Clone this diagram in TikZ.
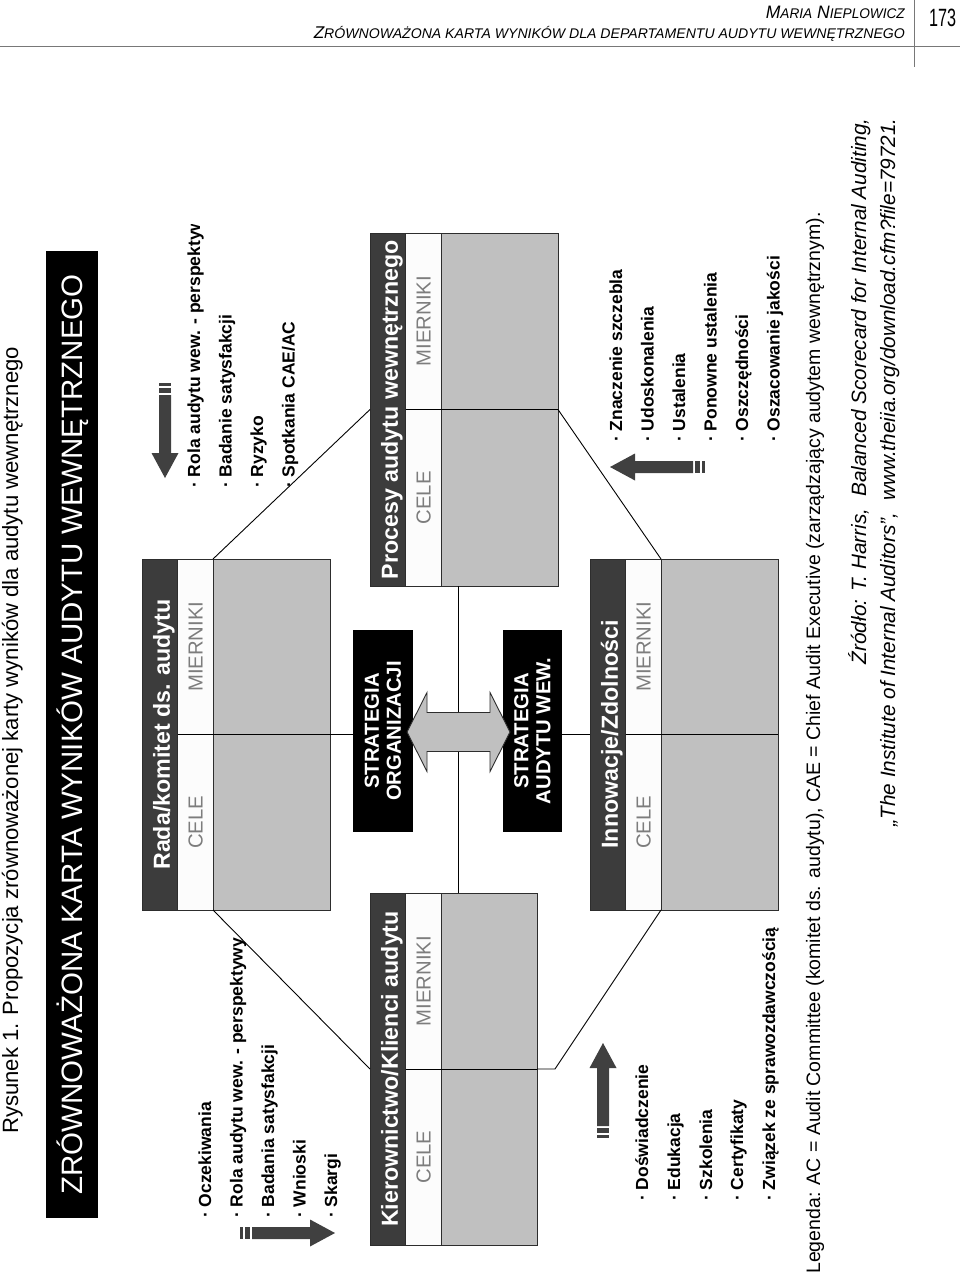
\documentclass[tikz,border=0pt]{standalone}
\usepackage{fontspec}
\setmainfont{Liberation Sans}
\usepackage{graphicx}
\usetikzlibrary{calc}
\definecolor{hdrgrey}{RGB}{60,60,60}
\definecolor{bodygrey}{RGB}{192,192,192}
\definecolor{bandwhite}{RGB}{252,252,252}
\definecolor{labelgrey}{RGB}{125,125,125}
\definecolor{arrowgrey}{RGB}{64,64,64}
\definecolor{edgegrey}{RGB}{45,45,45}
\definecolor{linegrey}{RGB}{120,120,120}

\tikzset{
  boxpart/.style={draw=edgegrey, line width=0.9pt, inner sep=0pt, outer sep=0pt, anchor=north west},
  hdr/.style={boxpart, fill=hdrgrey},
  wband/.style={boxpart, fill=bandwhite},
  gband/.style={boxpart, fill=bodygrey},
  hdrtext/.style={rotate=90, anchor=base, inner sep=0pt, text=white, font=\fontsize{23.2}{26}\selectfont\bfseries},
  celetext/.style={rotate=90, anchor=base, inner sep=0pt, text=labelgrey, font=\fontsize{20.3}{24}\selectfont},
  conn/.style={draw=black, line width=0.9pt},
  stratbox/.style={fill=black, inner sep=0pt, outer sep=0pt},
  strattext/.style={rotate=90, align=center, inner sep=0pt, text=white, font=\fontsize{20.3}{22}\selectfont\bfseries},
  dblarrow/.style={fill=bodygrey, draw=edgegrey, line width=0.9pt, line join=miter},
  listtext/.style={rotate=90, anchor=base west, inner sep=0pt, font=\fontsize{17.5}{20}\selectfont\bfseries},
  notetext/.style={rotate=90, anchor=base west, inner sep=0pt, font=\fontsize{19.5}{22}\selectfont},
  srctext/.style={rotate=90, anchor=base east, inner sep=0pt, font=\fontsize{20.75}{24}\selectfont\itshape},
  captext/.style={rotate=90, anchor=base west, inner sep=0pt, font=\fontsize{22.1}{26}\selectfont},
  titlebox/.style={fill=black, inner sep=0pt, outer sep=0pt, anchor=north west},
  titletext/.style={rotate=90, anchor=base, inner sep=0pt, text=white, font=\fontsize{29.5}{34}\selectfont},
  headline/.style={draw=linegrey, line width=1pt},
  runhead/.style={anchor=base east, inner sep=0pt},
  sarrow/.pic={
    \fill[arrowgrey] (0,-6) rectangle (3,6);
    \fill[arrowgrey] (5,-6) rectangle (10,6);
    \fill[arrowgrey] (12,-6) -- (70,-6) -- (70,-13.5) -- (95,0) -- (70,13.5) -- (70,6) -- (12,6) -- cycle;
  }
}

% #1 name, #2 x, #3 y top, #4 grey width, #5 height, #6 title
\newcommand\perspbox[6]{%
  \node[hdr, minimum width=35.5pt, minimum height=#5pt] (#1-h) at (#2,#3) {};
  \node[wband, minimum width=35.5pt, minimum height=#5pt] (#1-w) at (#1-h.north east) {};
  \node[gband, minimum width=#4pt, minimum height=#5pt] (#1-g) at (#1-w.north east) {};
  \draw[conn] (#1-w.west) -- (#1-g.east);
  \node[hdrtext] (#1-t) at ($(#1-h.center)+(10,0)$) {#6};
  \node[celetext] (#1-c) at ($(#1-w.center)!0.5!(#1-w.south)+(7.3,0)$) {CELE};
  \node[celetext] (#1-m) at ($(#1-w.center)!0.5!(#1-w.north)+(7.3,0)$) {MIERNIKI};
}

\begin{document}
\begin{tikzpicture}[x=1pt,y=-1pt]
\useasboundingbox (0,0) rectangle (960,1282);
\fill[white] (0,0) rectangle (960,1282);

% running head
\draw[headline] (0,46) -- (960,46);
\draw[headline] (914,0) -- (914,67);
\node[runhead] (author) at (905,18) {\resizebox{139pt}{\height}{\itshape\fontsize{18}{20}\selectfont M{\fontsize{14}{16}\selectfont ARIA} N{\fontsize{14}{16}\selectfont IEPLOWICZ}}};
\node[runhead] (rtitle) at (905,38) {\resizebox{591pt}{\height}{\itshape\fontsize{17}{20}\selectfont Z{\fontsize{14}{16}\selectfont RÓWNOWAŻONA KARTA WYNIKÓW DLA DEPARTAMENTU AUDYTU WEWNĘTRZNEGO}}};
\node[anchor=base west, inner sep=0pt] (pageno) at (929,26) {\resizebox{27pt}{\height}{\fontsize{25}{28}\selectfont 173}};

% caption and title
\node[captext] (caption) at (18,1134) {Rysunek 1. Propozycja zrównoważonej karty wyników dla audytu wewnętrznego};
\node[titlebox, minimum width=52pt, minimum height=967pt] (tbox) at (46,251) {};
\node[titletext] (ttext) at ($(tbox.center)+(10.5,0)$) {ZRÓWNOWAŻONA KARTA WYNIKÓW AUDYTU WEWNĘTRZNEGO};

% perspective boxes
\perspbox{proc}{370}{233}{117}{353}{Procesy audytu wewnętrznego}
\perspbox{rada}{142}{559}{117}{351}{Rada/komitet ds. audytu}
\perspbox{inno}{590}{559}{117}{351}{Innowacje/Zdolności}
\perspbox{kier}{370}{893}{96}{352}{Kierownictwo/Klienci audytu}

% strategy boxes
\node[stratbox, minimum width=60pt, minimum height=202pt] (sorg) at (383,731) {};
\node[stratbox, minimum width=59pt, minimum height=202pt] (saud) at (532.5,731) {};
\node[strattext] (sorgt) at (sorg.center) {STRATEGIA\\ORGANIZACJI};
\node[strattext] (saudt) at (saud.center) {STRATEGIA\\AUDYTU WEW.};

% connectors
\coordinate (ctrx) at (458,0);
\draw[conn] (ctrx |- proc-g.south) -- (ctrx |- kier-g.north);
\draw[conn] (rada-g.east) -- (sorg.west |- rada-g.east);
\draw[conn] (saud.east |- inno-h.west) -- (inno-h.west);
\draw[conn] (rada-g.north west) -- (proc-h.west);
\draw[conn] (rada-g.south west) -- (kier-h.west);
\draw[conn] (proc-g.east) -- (inno-g.north west);
\draw[conn] (inno-g.south west) -- ($(kier-g.east)+(18,0)$) -- (kier-g.east);

% double arrow between strategies
\draw[dblarrow] (407,732) -- (427,692.5) -- (427,712.5) -- (490,712.5) -- (490,692.5) -- (510,732) -- (490,771.5) -- (490,751.5) -- (427,751.5) -- (427,771.5) -- cycle;

% striped arrows
\pic[rotate=-90] (arrtop) at (165,383) {sarrow};
\pic (arrleft) at (240,1233) {sarrow};
\pic[rotate=90] (arrbl) at (603,1138) {sarrow};
\pic[rotate=180] (arrbr) at (705,467) {sarrow};

% lists
\begin{scope}
  \clip (180,224) rectangle (215,500);
  \node[listtext] (t1) at (200,488) {· Rola audytu wew. - perspektyw};
\end{scope}
\node[listtext] (t2) at (231.5,488) {· Badanie satysfakcji};
\node[listtext] (t3) at (263,488) {· Ryzyko};
\node[listtext] (t4) at (294.5,488) {· Spotkania CAE/AC};

\node[listtext] (l1) at (211,1218) {· Oczekiwania};
\node[listtext] (l2) at (242.5,1218) {· Rola audytu wew. - perspektywy};
\node[listtext] (l3) at (274,1218) {· Badania satysfakcji};
\node[listtext] (l4) at (305.5,1218) {· Wnioski};
\node[listtext] (l5) at (337,1218) {· Skargi};

\node[listtext] (b1) at (648,1201) {· Doświadczenie};
\node[listtext] (b2) at (680,1201) {· Edukacja};
\node[listtext] (b3) at (712,1201) {· Szkolenia};
\node[listtext] (b4) at (743,1201) {· Certyfikaty};
\node[listtext] (b5) at (775,1201) {· Związek ze sprawozdawczością};

\node[listtext] (r1) at (622,442) {· Znaczenie szczebla};
\node[listtext] (r2) at (653.5,442) {· Udoskonalenia};
\node[listtext] (r3) at (685,442) {· Ustalenia};
\node[listtext] (r4) at (716.5,442) {· Ponowne ustalenia};
\node[listtext] (r5) at (748,442) {· Oszczędności};
\node[listtext] (r6) at (779.5,442) {· Oszacowanie jakości};

% legend and source
\node[notetext] (legend) at (820,1274) {Legenda: AC = Audit Committee (komitet ds. audytu), CAE = Chief Audit Executive (zarządzający audytem wewnętrznym).};
\node[srctext] (src1) at (866,118) {Źródło: T. Harris,\hspace{0.3em} Balanced Scorecard for Internal Auditing,};
\node[srctext] (src2) at (895,118) {„The Institute of Internal Auditors”,\hspace{0.3em} www.theiia.org/download.cfm?file=79721.};
\end{tikzpicture}
\end{document}
